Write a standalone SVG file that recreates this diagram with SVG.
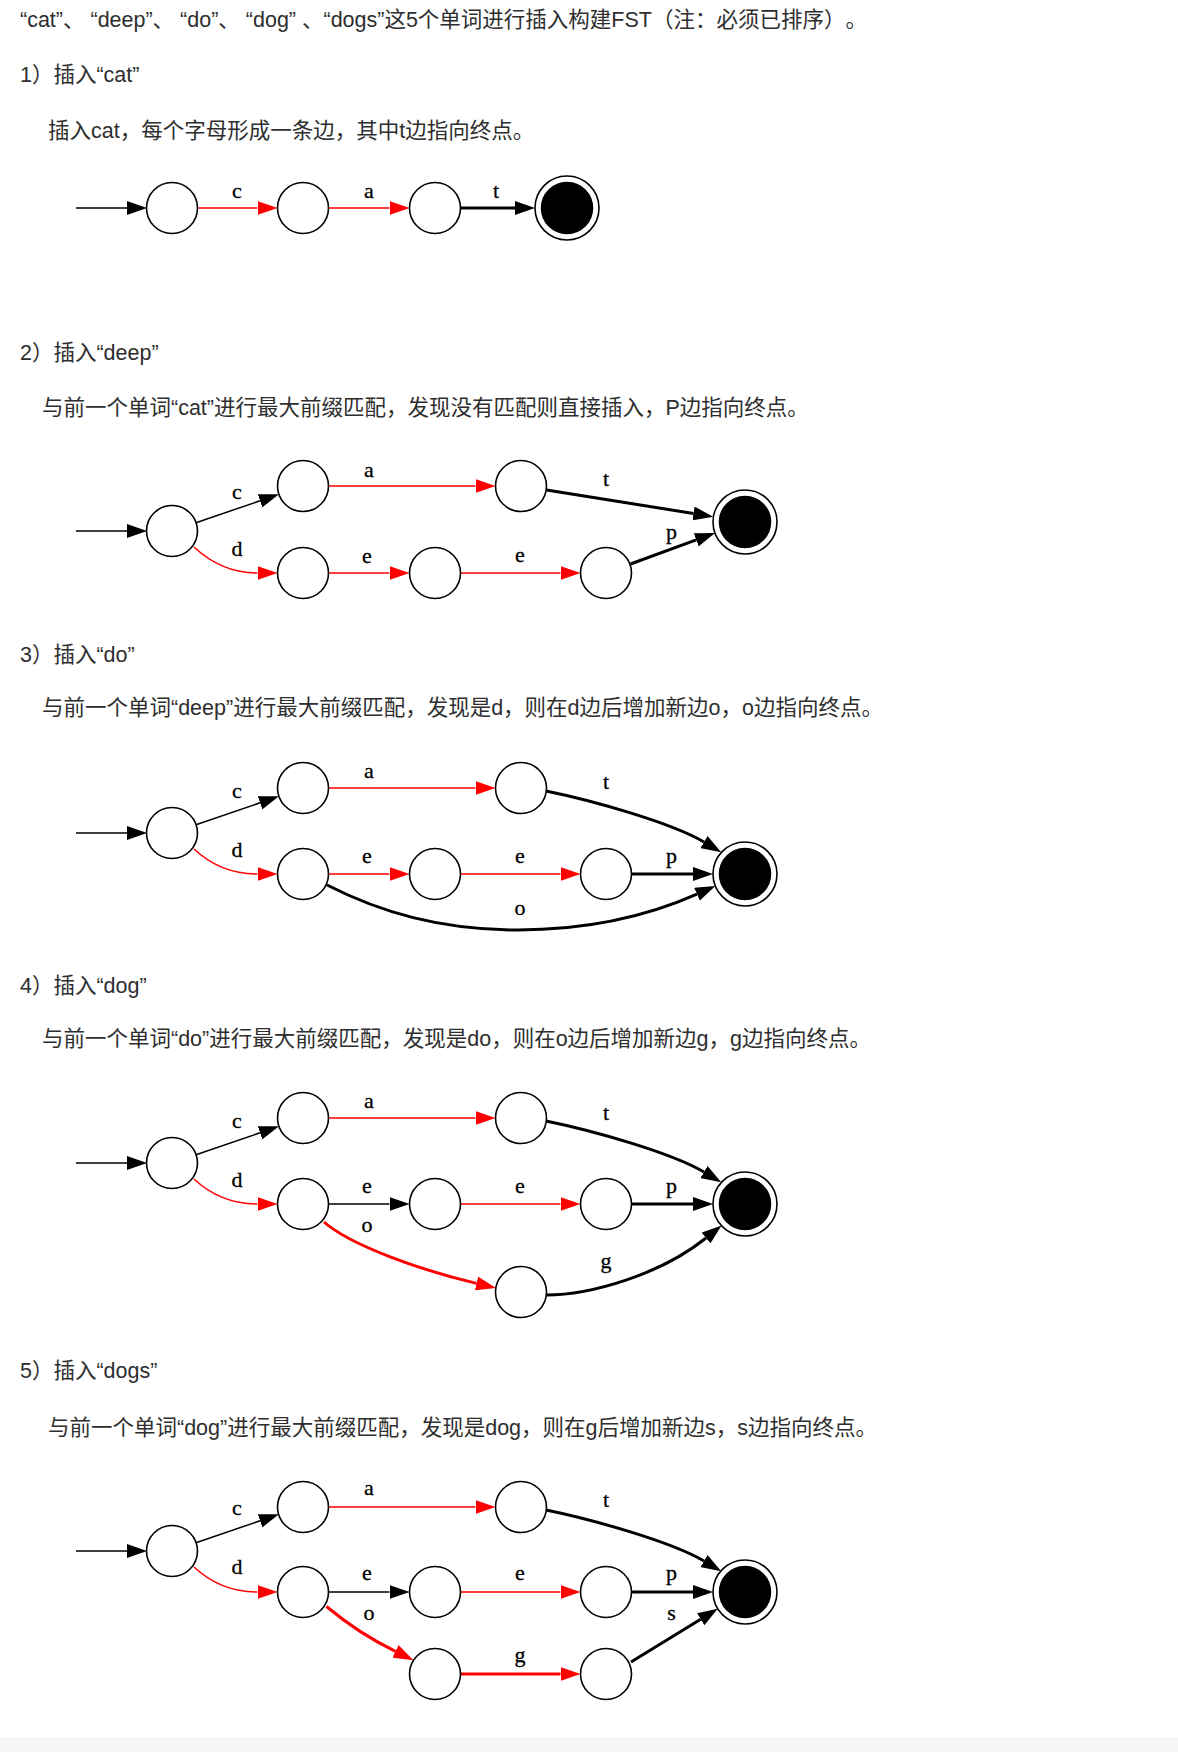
<svg xmlns="http://www.w3.org/2000/svg" width="1178" height="1752" viewBox="0 0 1178 1752">
<style>
.t{font-family:"Liberation Sans","Noto Sans CJK SC",sans-serif;font-size:21.5px;fill:#2e2e2e;text-spacing-trim:space-all}
.l{font-family:"Liberation Serif","Times New Roman",serif;font-size:22px;fill:#000;stroke:#000;stroke-width:0.3;text-anchor:middle}
.n{fill:#fff;stroke:#000;stroke-width:1.6}
.fo{fill:#fff;stroke:#000;stroke-width:1.6}
.fi{fill:#000;stroke:#000;stroke-width:1.5}
.k{fill:none;stroke:#000;stroke-width:1.5;marker-end:url(#ak)}
.r{fill:none;stroke:#f00;stroke-width:1.5;marker-end:url(#ar)}
.K{fill:none;stroke:#000;stroke-width:3;marker-end:url(#ak)}
.R{fill:none;stroke:#f00;stroke-width:3;marker-end:url(#ar)}
</style>
<defs>
<marker id="ak" markerUnits="userSpaceOnUse" markerWidth="20" markerHeight="14" viewBox="0 0 20 14" refX="0" refY="7" orient="auto"><path d="M0,0 L20,7 L0,14 z" fill="#000"/></marker>
<marker id="ar" markerUnits="userSpaceOnUse" markerWidth="20" markerHeight="14" viewBox="0 0 20 14" refX="0" refY="7" orient="auto"><path d="M0,0 L20,7 L0,14 z" fill="#f00"/></marker>
</defs>
<rect x="0" y="0" width="1178" height="1752" fill="#fff"/>
<rect x="0" y="1737" width="1178" height="15" fill="#f6f6f6"/>

<g id="texts">
<text class="t" x="20" y="26.5">“cat”、 “deep”、 “do”、 “dog” 、“dogs”这5个单词进行插入构建FST（注：必须已排序）。</text>
<text class="t" x="20" y="81.5">1）插入“cat”</text>
<text class="t" x="48" y="137.5">插入cat，每个字母形成一条边，其中t边指向终点。</text>
<text class="t" x="20" y="359.5">2）插入“deep”</text>
<text class="t" x="42" y="414.5">与前一个单词“cat”进行最大前缀匹配，发现没有匹配则直接插入，P边指向终点。</text>
<text class="t" x="20" y="661.5">3）插入“do”</text>
<text class="t" x="42" y="715">与前一个单词“deep”进行最大前缀匹配，发现是d，则在d边后增加新边o，o边指向终点。</text>
<text class="t" x="20" y="992.5">4）插入“dog”</text>
<text class="t" x="42" y="1045.5">与前一个单词“do”进行最大前缀匹配，发现是do，则在o边后增加新边g，g边指向终点。</text>
<text class="t" x="20" y="1377.5">5）插入“dogs”</text>
<text class="t" x="48" y="1434.5">与前一个单词“dog”进行最大前缀匹配，发现是dog，则在g后增加新边s，s边指向终点。</text>
</g>

<g id="connectors">
<!-- section 1 -->
<path class="k" d="M76,208 H127"/>
<path class="r" d="M198.5,208 H257.5"/>
<path class="r" d="M328.5,208 H389.5"/>
<path class="K" d="M460.5,208 H515"/>
<text class="l" x="237" y="198">c</text>
<text class="l" x="369" y="198">a</text>
<text class="l" x="496" y="198">t</text>
<!-- section 2 -->
<path class="k" d="M76,531 H127"/>
<path class="k" d="M196,522.7 L260,500.8"/>
<path class="r" d="M194,547 C210,562 232,573 257.5,573"/>
<path class="r" d="M328.5,486 H475.5"/>
<path class="r" d="M328.5,573 H389.5"/>
<path class="r" d="M460.5,573 H560.5"/>
<path class="K" d="M546.5,490 L693.5,513.5"/>
<path class="K" d="M630.5,564 L696.2,539.9"/>
<text class="l" x="237" y="498.5">c</text>
<text class="l" x="237" y="555.5">d</text>
<text class="l" x="369" y="477">a</text>
<text class="l" x="367" y="562.5">e</text>
<text class="l" x="520" y="562">e</text>
<text class="l" x="606" y="485.5">t</text>
<text class="l" x="671.5" y="538.5">p</text>
<!-- section 3 -->
<path class="k" d="M76,833 H127"/>
<path class="k" d="M196,824.7 L260,802.8"/>
<path class="r" d="M194,849 C210,864 232,874 257.5,874"/>
<path class="r" d="M328.5,788 H475.5"/>
<path class="r" d="M328.5,874 H389.5"/>
<path class="r" d="M460.5,874 H560.5"/>
<path class="K" d="M631.5,874 H693"/>
<path class="K" d="M546,791 C590,800 670,822 704,842"/>
<path class="K" d="M327,885 C380,912 440,930 518,930 C590,930 650,915 697,894.2"/>
<text class="l" x="237" y="797.5">c</text>
<text class="l" x="237" y="857">d</text>
<text class="l" x="369" y="777.5">a</text>
<text class="l" x="367" y="862.5">e</text>
<text class="l" x="520" y="862.5">e</text>
<text class="l" x="606" y="789">t</text>
<text class="l" x="671.5" y="863">p</text>
<text class="l" x="520" y="914.5">o</text>
<!-- section 4 -->
<path class="k" d="M76,1163 H127"/>
<path class="k" d="M196,1154.7 L260,1132.8"/>
<path class="r" d="M194,1179 C210,1194 232,1204 257.5,1204"/>
<path class="r" d="M328.5,1118 H475.5"/>
<path class="k" d="M328.5,1204 H389.5"/>
<path class="r" d="M460.5,1204 H560.5"/>
<path class="K" d="M631.5,1204 H693"/>
<path class="K" d="M546,1121 C590,1130 670,1152 704,1172"/>
<path class="R" d="M324,1222 C350,1245 420,1270 476.5,1283.4"/>
<path class="K" d="M546,1295 C590,1295 660,1275 706,1238"/>
<text class="l" x="237" y="1128">c</text>
<text class="l" x="237" y="1187">d</text>
<text class="l" x="369" y="1107.5">a</text>
<text class="l" x="367" y="1193">e</text>
<text class="l" x="520" y="1193">e</text>
<text class="l" x="606" y="1119.5">t</text>
<text class="l" x="671.5" y="1193">p</text>
<text class="l" x="367" y="1232">o</text>
<text class="l" x="606" y="1268">g</text>
<!-- section 5 -->
<path class="k" d="M76,1551 H127"/>
<path class="k" d="M196,1542.7 L260,1520.8"/>
<path class="r" d="M194,1567 C210,1582 232,1592 257.5,1592"/>
<path class="r" d="M328.5,1507 H475.5"/>
<path class="k" d="M328.5,1592 H389.5"/>
<path class="r" d="M460.5,1592 H560.5"/>
<path class="K" d="M631.5,1592 H693"/>
<path class="K" d="M546,1510 C590,1519 670,1541 704,1561"/>
<path class="R" d="M326.5,1606.5 C345,1622 368,1638 395.5,1651.4"/>
<path class="R" d="M460.5,1674 H560.5"/>
<path class="K" d="M631,1662 L700.7,1619.3"/>
<text class="l" x="237" y="1515">c</text>
<text class="l" x="237" y="1574">d</text>
<text class="l" x="369" y="1495">a</text>
<text class="l" x="367" y="1580">e</text>
<text class="l" x="520" y="1580">e</text>
<text class="l" x="606" y="1507">t</text>
<text class="l" x="671.5" y="1580">p</text>
<text class="l" x="369" y="1620">o</text>
<text class="l" x="671.5" y="1620">s</text>
<text class="l" x="520" y="1661.5">g</text>
</g>

<!-- section 1 nodes -->
<g id="s1-n0"><circle class="n" cx="172" cy="208" r="25.5"/></g>
<g id="s1-n1"><circle class="n" cx="303" cy="208" r="25.5"/></g>
<g id="s1-n2"><circle class="n" cx="435" cy="208" r="25.5"/></g>
<g id="s1-final"><circle class="fo" cx="567" cy="208" r="32"/><circle class="fi" cx="567" cy="208" r="25.5"/></g>
<!-- section 2 nodes -->
<g id="s2-n0"><circle class="n" cx="172" cy="531" r="25.5"/></g>
<g id="s2-c1"><circle class="n" cx="303" cy="486" r="25.5"/></g>
<g id="s2-c2"><circle class="n" cx="521" cy="486" r="25.5"/></g>
<g id="s2-d1"><circle class="n" cx="303" cy="573" r="25.5"/></g>
<g id="s2-d2"><circle class="n" cx="435" cy="573" r="25.5"/></g>
<g id="s2-d3"><circle class="n" cx="606" cy="573" r="25.5"/></g>
<g id="s2-final"><circle class="fo" cx="745" cy="522" r="32"/><circle class="fi" cx="745" cy="522" r="25.5"/></g>
<!-- section 3 nodes -->
<g id="s3-n0"><circle class="n" cx="172" cy="833" r="25.5"/></g>
<g id="s3-c1"><circle class="n" cx="303" cy="788" r="25.5"/></g>
<g id="s3-c2"><circle class="n" cx="521" cy="788" r="25.5"/></g>
<g id="s3-d1"><circle class="n" cx="303" cy="874" r="25.5"/></g>
<g id="s3-d2"><circle class="n" cx="435" cy="874" r="25.5"/></g>
<g id="s3-d3"><circle class="n" cx="606" cy="874" r="25.5"/></g>
<g id="s3-final"><circle class="fo" cx="745" cy="874" r="32"/><circle class="fi" cx="745" cy="874" r="25.5"/></g>
<!-- section 4 nodes -->
<g id="s4-n0"><circle class="n" cx="172" cy="1163" r="25.5"/></g>
<g id="s4-c1"><circle class="n" cx="303" cy="1118" r="25.5"/></g>
<g id="s4-c2"><circle class="n" cx="521" cy="1118" r="25.5"/></g>
<g id="s4-d1"><circle class="n" cx="303" cy="1204" r="25.5"/></g>
<g id="s4-d2"><circle class="n" cx="435" cy="1204" r="25.5"/></g>
<g id="s4-d3"><circle class="n" cx="606" cy="1204" r="25.5"/></g>
<g id="s4-o1"><circle class="n" cx="521" cy="1292" r="25.5"/></g>
<g id="s4-final"><circle class="fo" cx="745" cy="1204" r="32"/><circle class="fi" cx="745" cy="1204" r="25.5"/></g>
<!-- section 5 nodes -->
<g id="s5-n0"><circle class="n" cx="172" cy="1551" r="25.5"/></g>
<g id="s5-c1"><circle class="n" cx="303" cy="1507" r="25.5"/></g>
<g id="s5-c2"><circle class="n" cx="521" cy="1507" r="25.5"/></g>
<g id="s5-d1"><circle class="n" cx="303" cy="1592" r="25.5"/></g>
<g id="s5-d2"><circle class="n" cx="435" cy="1592" r="25.5"/></g>
<g id="s5-d3"><circle class="n" cx="606" cy="1592" r="25.5"/></g>
<g id="s5-o1"><circle class="n" cx="435" cy="1674" r="25.5"/></g>
<g id="s5-g1"><circle class="n" cx="606" cy="1674" r="25.5"/></g>
<g id="s5-final"><circle class="fo" cx="745" cy="1592" r="32"/><circle class="fi" cx="745" cy="1592" r="25.5"/></g>
</svg>
